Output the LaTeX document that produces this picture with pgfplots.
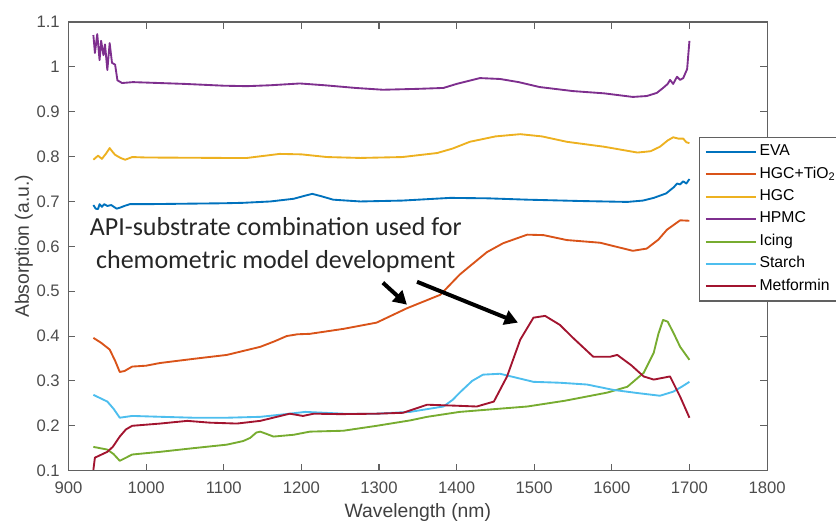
\documentclass[border=0pt]{standalone}
\usepackage{fontspec}
\setmainfont{Liberation Sans}
\newfontfamily\carlito{Carlito}
\usepackage{pgfplots}
\pgfplotsset{compat=1.18}
\usetikzlibrary{arrows.meta}

\definecolor{cEVA}{rgb}{0,0.447,0.741}
\definecolor{cTiO}{rgb}{0.85,0.325,0.098}
\definecolor{cHGC}{rgb}{0.929,0.694,0.125}
\definecolor{cHPMC}{rgb}{0.494,0.184,0.556}
\definecolor{cIcing}{rgb}{0.466,0.674,0.188}
\definecolor{cStarch}{rgb}{0.301,0.745,0.933}
\definecolor{cMet}{rgb}{0.635,0.078,0.184}
\definecolor{axgray}{gray}{0.38}

\begin{document}
\begin{tikzpicture}
\useasboundingbox (-51.4pt,-38.5pt) rectangle (575.6pt,353pt);
\begin{axis}[
  scale only axis,
  width=523.9pt, height=336.5pt,
  xmin=900, xmax=1800, ymin=0.1, ymax=1.1,
  xtick={900,1000,1100,1200,1300,1400,1500,1600,1700,1800},
  ytick={0.1,0.2,0.3,0.4,0.5,0.6,0.7,0.8,0.9,1,1.1},
  /pgf/number format/1000 sep={},
  /pgf/number format/assume math mode=true,
  tick align=inside,
  major tick length=5pt,
  axis line style={draw=axgray, line width=0.8pt},
  tick style={draw=axgray, line width=0.8pt},
  tick label style={font=\fontsize{12.5}{14}\selectfont, text=black!70},
  xticklabel style={anchor=base, yshift=-17.1pt, inner sep=0pt},
  yticklabel style={anchor=east, inner sep=0pt, xshift=-6.4pt},
  label style={font=\fontsize{14.5}{17}\selectfont, text=black!75},
  xlabel={Wavelength (nm)},
  ylabel={Absorption (a.u.)},
  xlabel style={at={(axis description cs:0.5,0)}, anchor=base, yshift=-35pt},
  ylabel style={at={(axis description cs:-0.0638,0.5)}, anchor=center},
  every axis plot/.append style={line width=1.4pt, line join=round},
  legend image code/.code={\draw[#1, line width=1.5pt] (0pt,0pt) -- (37.5pt,0pt);},
  legend cell align=left,
  legend style={
    at={(rel axis cs:0.9027,0.7437)}, anchor=north west,
    draw=axgray, line width=0.8pt, fill=white,
    font=\fontsize{11.8}{13}\selectfont,
    inner xsep=4pt, inner ysep=2.5pt,
    nodes={inner sep=2pt, text height=9.2pt, text depth=3.6pt},
  },
]
% EVA
\addplot[color=cEVA] coordinates {
(932,0.692)(935,0.684)(938,0.683)(940,0.694)(943,0.688)(946,0.694)(950,0.690)
(955,0.692)(962,0.684)(966,0.686)(972,0.690)(979,0.694)(1000,0.694)(1050,0.695)
(1100,0.696)(1125,0.697)(1160,0.700)(1190,0.706)(1205,0.713)(1214,0.717)
(1225,0.712)(1241,0.704)(1276,0.700)(1330,0.702)(1392,0.708)(1440,0.707)
(1491,0.704)(1560,0.701)(1620,0.699)(1640,0.702)(1654,0.708)(1670,0.718)
(1680,0.732)(1684,0.740)(1688,0.738)(1692,0.745)(1696,0.740)(1700,0.750)
};
% HGC+TiO2
\addplot[color=cTiO] coordinates {
(932,0.396)(942,0.385)(953,0.370)(960,0.345)(966,0.320)(972,0.322)(982,0.332)
(1000,0.334)(1018,0.340)(1060,0.349)(1104,0.358)(1147,0.376)(1165,0.388)
(1181,0.400)(1195,0.404)(1211,0.405)(1254,0.416)(1297,0.430)(1336,0.462)
(1379,0.492)(1404,0.537)(1413,0.550)(1439,0.587)(1460,0.607)(1491,0.626)
(1512,0.625)(1542,0.614)(1585,0.608)(1627,0.590)(1645,0.595)(1660,0.615)
(1671,0.637)(1688,0.658)(1700,0.657)
};
% HGC
\addplot[color=cHGC] coordinates {
(932,0.793)(938,0.802)(943,0.795)(948,0.806)(953,0.819)(957,0.810)(960,0.804)
(967,0.797)(973,0.793)(982,0.799)(1000,0.798)(1100,0.797)(1130,0.797)
(1172,0.806)(1200,0.805)(1233,0.799)(1276,0.797)(1330,0.799)(1375,0.808)
(1395,0.818)(1417,0.833)(1450,0.845)(1482,0.850)(1510,0.845)(1542,0.833)
(1590,0.822)(1633,0.809)(1650,0.812)(1662,0.822)(1672,0.836)(1679,0.843)
(1686,0.840)(1692,0.840)(1696,0.832)(1700,0.830)
};
% HPMC
\addplot[color=cHPMC] coordinates {
(932,1.071)(934,1.031)(937,1.073)(940,1.015)(942,1.058)(945,1.026)(947,1.050)
(950,0.993)(953,1.053)(956,1.009)(960,1.005)(963,0.970)(969,0.964)(983,0.966)
(1000,0.965)(1050,0.962)(1100,0.958)(1130,0.957)(1160,0.959)(1198,0.963)
(1230,0.959)(1270,0.953)(1305,0.949)(1350,0.951)(1383,0.953)(1400,0.962)
(1430,0.975)(1456,0.973)(1480,0.966)(1507,0.955)(1550,0.946)(1590,0.941)
(1627,0.933)(1645,0.935)(1658,0.942)(1666,0.953)(1672,0.962)(1675,0.971)
(1679,0.962)(1684,0.978)(1688,0.971)(1692,0.975)(1697,0.995)(1700,1.058)
};
% Icing
\addplot[color=cIcing] coordinates {
(932,0.153)(950,0.147)(958,0.137)(966,0.122)(973,0.128)(982,0.136)(1018,0.142)
(1060,0.150)(1104,0.158)(1125,0.166)(1134,0.173)(1142,0.185)(1147,0.187)
(1155,0.182)(1164,0.176)(1190,0.180)(1211,0.187)(1254,0.189)(1297,0.200)
(1340,0.212)(1362,0.220)(1404,0.231)(1440,0.236)(1491,0.243)(1540,0.256)
(1594,0.274)(1620,0.287)(1641,0.318)(1654,0.363)(1660,0.405)(1666,0.436)
(1672,0.432)(1680,0.405)(1688,0.376)(1700,0.347)
};
% Starch
\addplot[color=cStarch] coordinates {
(932,0.269)(950,0.254)(958,0.238)(966,0.218)(974,0.220)(982,0.222)(1020,0.220)
(1061,0.218)(1104,0.218)(1147,0.220)(1180,0.226)(1205,0.231)(1254,0.227)
(1297,0.227)(1340,0.231)(1383,0.243)(1395,0.258)(1404,0.274)(1420,0.300)
(1434,0.314)(1456,0.316)(1475,0.308)(1499,0.298)(1533,0.296)(1568,0.292)
(1602,0.280)(1633,0.273)(1662,0.267)(1679,0.276)(1690,0.287)(1700,0.298)
};
% Metformin
\addplot[color=cMet] coordinates {
(932,0.102)(934,0.129)(950,0.142)(957,0.153)(966,0.176)(974,0.192)(982,0.200)
(1018,0.205)(1053,0.211)(1082,0.207)(1117,0.205)(1147,0.211)(1185,0.227)
(1202,0.222)(1216,0.227)(1250,0.226)(1297,0.227)(1331,0.229)(1362,0.247)
(1396,0.245)(1426,0.243)(1448,0.254)(1465,0.310)(1482,0.392)(1499,0.441)
(1514,0.445)(1533,0.425)(1550,0.396)(1576,0.354)(1598,0.354)(1607,0.358)
(1625,0.335)(1641,0.310)(1654,0.303)(1675,0.310)(1688,0.265)(1700,0.218)
};
\legend{EVA, HGC+TiO\textsubscript{2}, HGC, HPMC, Icing, Starch, Metformin}

\node[align=center, font=\carlito\fontsize{19.5}{24.75}\selectfont, text=black!85]
  at (axis cs:1167,0.603)
  {API-substrate combination used for\\chemometric model development};
\draw[line width=3pt, -{Triangle[length=10pt,width=11pt]}]
  (axis cs:1305,0.519) -- (axis cs:1336,0.470);
\draw[line width=3pt, -{Triangle[length=10pt,width=11pt]}]
  (axis cs:1349,0.521) -- (axis cs:1479,0.430);
\end{axis}
\end{tikzpicture}
\end{document}
